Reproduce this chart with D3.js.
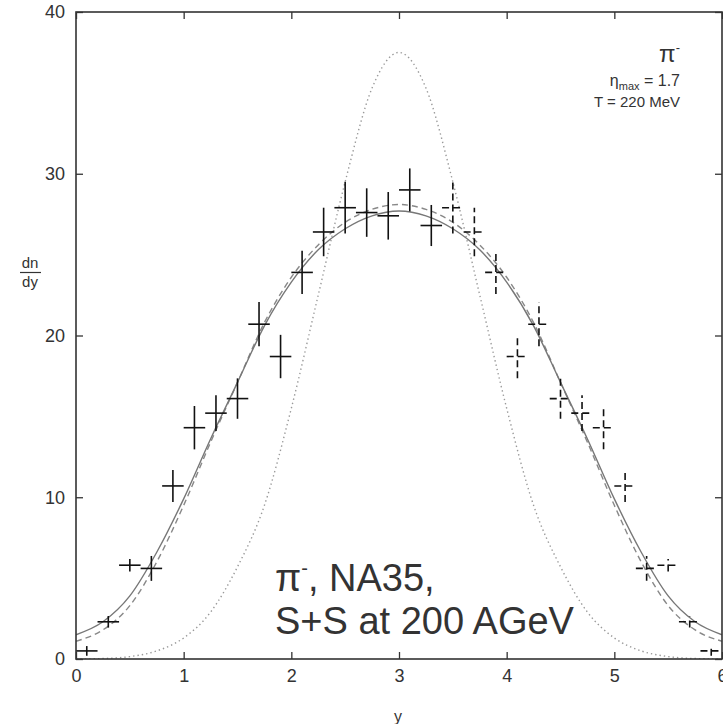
<!DOCTYPE html>
<html><head><meta charset="utf-8">
<script src="https://cdn.jsdelivr.net/npm/d3@7"></script>
<style>body{margin:0;background:#fff;} text{font-family:"Liberation Sans",Arial,sans-serif;fill:#333;}</style>
</head><body>
<svg id="chart" width="723" height="724"></svg>
<script>
// curve samples (rapidity y, dn/dy)
const curveX      = [0,0.25,0.5,0.75,1,1.25,1.5,1.75,2,2.25,2.5,2.75,3,3.25,3.5,3.75,4,4.25,4.5,4.75,5,5.25,5.5,5.75,6];
const solidCurve  = [1.5,2.3,3.9,6.6,9.9,13.6,17.1,20.6,23.3,25.3,26.6,27.4,27.7,27.4,26.6,25.3,23.3,20.6,17.1,13.6,9.9,6.6,3.9,2.3,1.5];
const dashedCurve = [1.1,1.8,3.3,6.0,9.5,13.4,17.1,20.8,23.6,25.6,27.0,27.8,28.1,27.8,27.0,25.6,23.6,20.8,17.1,13.4,9.5,6.0,3.3,1.8,1.1];
const dottedCurve = [0.0,0.03,0.15,0.5,1.3,2.9,5.7,9.5,15.5,22.5,29.5,35.3,37.5,35.3,29.5,22.5,15.5,9.5,5.7,2.9,1.3,0.5,0.15,0.03,0.0];
// measured points (solid crosses)
const measX   = [0.1,0.3,0.5,0.7,0.9,1.1,1.3,1.5,1.7,1.9,2.1,2.3,2.5,2.7,2.9,3.1,3.3];
const measY   = [0.5,2.3,5.8,5.6,10.7,14.3,15.2,16.1,20.7,18.7,23.9,26.4,27.9,27.6,27.4,29.0,26.8];
const measErr = [0.3,0.36,0.39,0.77,0.99,1.34,1.1,1.25,1.37,1.34,1.34,1.5,1.6,1.5,1.47,1.33,1.27];
// reflected points (dashed crosses)
const reflX   = [3.5,3.7,3.9,4.1,4.3,4.5,4.7,4.9,5.1,5.3,5.5,5.7,5.9];
const reflY   = [27.9,26.4,23.9,18.7,20.7,16.1,15.2,14.3,10.7,5.6,5.8,2.3,0.5];
const reflErr = [1.6,1.5,1.34,1.34,1.37,1.25,1.1,1.34,0.99,0.77,0.39,0.36,0.3];
const xHalf = 0.1;
const xTicks = [0,1,2,3,4,5,6];
const yTicks = [0,10,20,30,40];

const svg = d3.select("#chart");
const L=76, R=722, T=12, B=659;
const x = d3.scaleLinear().domain([0,6]).range([L,R]);
const y = d3.scaleLinear().domain([0,40]).range([B,T]);

svg.append("clipPath").attr("id","c").append("rect")
  .attr("x",L).attr("y",T).attr("width",R-L).attr("height",B-T);
const plot = svg.append("g").attr("clip-path","url(#c)");

const line = d3.line().x((d,i)=>x(curveX[i])).y(d=>y(d)).curve(d3.curveMonotoneX);
plot.append("path").attr("d",line(dottedCurve)).attr("fill","none")
  .attr("stroke","#999").attr("stroke-width",1.4).attr("stroke-dasharray","1.4,3");
plot.append("path").attr("d",line(dashedCurve)).attr("fill","none")
  .attr("stroke","#888").attr("stroke-width",1.4).attr("stroke-dasharray","6,4");
plot.append("path").attr("d",line(solidCurve)).attr("fill","none")
  .attr("stroke","#777").attr("stroke-width",1.4);

function crosses(xs,ys,es,dash){
  const g = plot.append("g").attr("stroke","#111").attr("stroke-width",1.6);
  if(dash) g.attr("stroke-dasharray","7,4");
  xs.forEach((xv,i)=>{
    g.append("line").attr("x1",x(xv-xHalf)).attr("x2",x(xv+xHalf)).attr("y1",y(ys[i])).attr("y2",y(ys[i]));
    g.append("line").attr("x1",x(xv)).attr("x2",x(xv)).attr("y1",y(ys[i]-es[i])).attr("y2",y(ys[i]+es[i]));
  });
}
crosses(measX,measY,measErr,false);
crosses(reflX,reflY,reflErr,true);

// frame
svg.append("rect").attr("x",L).attr("y",T).attr("width",R-L).attr("height",B-T)
  .attr("fill","none").attr("stroke","#333").attr("stroke-width",1.6);

// axes with inward ticks
const tk = 7;
svg.append("g").attr("transform",`translate(0,${B})`)
  .call(d3.axisBottom(x).tickValues(xTicks).tickSize(-tk).tickPadding(tk+3).tickFormat(d3.format("d")))
  .call(g=>{g.select(".domain").remove(); g.selectAll("line").attr("stroke","#333").attr("stroke-width",1.3);
    g.selectAll("text").attr("font-size",18).attr("fill","#333").attr("font-family","Liberation Sans");});
svg.append("g").attr("transform",`translate(0,${T})`)
  .call(d3.axisTop(x).tickValues(xTicks).tickSize(-tk).tickFormat(""))
  .call(g=>{g.select(".domain").remove(); g.selectAll("line").attr("stroke","#333").attr("stroke-width",1.3);});
svg.append("g").attr("transform",`translate(${L},0)`)
  .call(d3.axisLeft(y).tickValues(yTicks).tickSize(-tk).tickPadding(tk+4).tickFormat(d3.format("d")))
  .call(g=>{g.select(".domain").remove(); g.selectAll("line").attr("stroke","#333").attr("stroke-width",1.3);
    g.selectAll("text").attr("font-size",18).attr("fill","#333").attr("font-family","Liberation Sans");});
svg.append("g").attr("transform",`translate(${R},0)`)
  .call(d3.axisRight(y).tickValues(yTicks).tickSize(-tk).tickFormat(""))
  .call(g=>{g.select(".domain").remove(); g.selectAll("line").attr("stroke","#333").attr("stroke-width",1.3);});

// axis titles
svg.append("text").attr("x",398).attr("y",722).attr("text-anchor","middle").attr("font-size",16).text("y");
svg.append("text").attr("x",30).attr("y",268).attr("text-anchor","middle").attr("font-size",15).text("dn");
svg.append("line").attr("x1",20).attr("x2",41).attr("y1",272.5).attr("y2",272.5).attr("stroke","#333").attr("stroke-width",1.2);
svg.append("text").attr("x",30).attr("y",287).attr("text-anchor","middle").attr("font-size",15).text("dy");

// labels top right
const tr = svg.append("g");
const p = tr.append("text").attr("x",680).attr("y",62).attr("text-anchor","end").attr("font-size",24).attr("font-family","DejaVu Serif");
p.append("tspan").text("π");
p.append("tspan").attr("dy",-10).attr("font-size",13).text("-");
const e = tr.append("text").attr("x",680).attr("y",86).attr("text-anchor","end").attr("font-size",16);
e.append("tspan").text("η");
e.append("tspan").attr("dy",4).attr("font-size",11).text("max");
e.append("tspan").attr("dy",-4).text(" = 1.7");
tr.append("text").attr("x",680).attr("y",107).attr("text-anchor","end").attr("font-size",15).text("T = 220 MeV");

// annotation
const a1 = svg.append("text").attr("x",275).attr("y",591).attr("font-size",38);
a1.append("tspan").text("π");
a1.append("tspan").attr("dy",-16).attr("font-size",20).text("-");
a1.append("tspan").attr("dy",16).text(", NA35,");
svg.append("text").attr("x",275).attr("y",634).attr("font-size",38).text("S+S at 200 AGeV");
</script>
</body></html>
